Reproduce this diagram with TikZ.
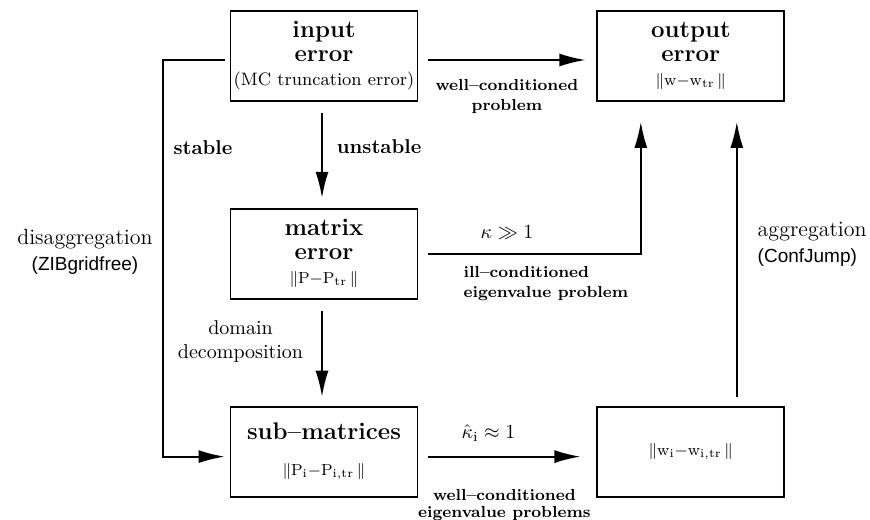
\documentclass[tikz,border=0pt]{standalone}
\usepackage{fontspec}
\newfontfamily\toolfont{Liberation Sans}
\usepackage{tikz}
\usetikzlibrary{arrows.meta, positioning}
\newcommand{\boxhead}{\fontsize{12}{12.5}\selectfont\bfseries}
\tikzset{errbox/.style={draw, line width=0.9pt, minimum width=93.5pt, minimum height=45pt, align=center, inner sep=1pt}}

\begin{document}
\begin{tikzpicture}[x=0.5pt, y=-0.5pt, >={Latex[length=13pt,width=6.5pt]}, line width=0.9pt, node distance=53pt and 89pt, every node/.style={inner sep=1pt}, cond/.style={font=\fontsize{8}{10}\selectfont\bfseries, align=center}, step label/.style={font=\bfseries}, tool/.style={font=\fontsize{11}{13}\selectfont}]
\useasboundingbox (0,0) rectangle (870,519);
\node[errbox] (in) at (324,56) {\boxhead input\\\boxhead error\\\small (MC truncation error)};
\node[errbox, right=of in] (out) {\boxhead output\\\boxhead error\\\footnotesize$\|\mathrm{w}{-}\mathrm{w}_{\mathrm{tr}}\,\|$};
\node[errbox, below=of in] (mat) {\boxhead matrix\\\boxhead error\\\footnotesize$\|\mathrm{P}{-}\mathrm{P}_{\mathrm{tr}}\,\|$};
\node[errbox, below=of mat] (sub) {\boxhead sub--matrices\\[6pt]\footnotesize$\|\mathrm{P}_{\mathrm{i}}{-}\mathrm{P}_{\mathrm{i,tr}}\,\|$};
\node[errbox, right=of sub] (wi) {\footnotesize$\|\mathrm{w}_{\mathrm{i}}{-}\mathrm{w}_{\mathrm{i,tr}}\,\|$};
\draw[->] ([xshift=5pt,yshift=-2pt]in.east) -- node[below=8pt, cond]{well--conditioned\\problem} ([xshift=-5.5pt,yshift=-2pt]out.west);
\draw[->] ([xshift=-1pt,yshift=-5.5pt]in.south) -- node[pos=0.4, right=6pt, step label]{unstable} ([xshift=-1pt,yshift=5pt]mat.north);
\draw[->] ([xshift=-2.5pt,yshift=-2pt]in.west) -- ++(-31pt,0) |- node[pos=0.11, right=4pt, step label]{stable} node[pos=0.242, left=3.5pt, tool, align=center]{disaggregation\\{\toolfont\fontsize{9.5}{13}\selectfont (ZIBgridfree)}} ([xshift=-2.5pt,yshift=-2.5pt]sub.west);
\draw[->] ([xshift=5pt]mat.east) -| node[pos=0.185, above=6pt]{$\kappa\gg 1$} node[pos=0.076, anchor=north west, yshift=-5pt, cond, align=left]{ill--conditioned\\eigenvalue problem} ([xshift=-25pt,yshift=-10pt]out.south);
\draw[->] ([xshift=-1pt,yshift=-5.5pt]mat.south) -- node[pos=0.355, left=8pt, align=center]{domain\\decomposition} ([xshift=-1pt,yshift=4.5pt]sub.north);
\draw[->] ([xshift=5pt,yshift=-2.5pt]sub.east) -- node[pos=0.395, above=6pt]{$\hat{\kappa}_{\mathrm{i}}\approx 1$} node[midway, below=15pt, cond, font=\fontsize{8}{8.5}\selectfont\bfseries]{well--conditioned\\eigenvalue problems} ([xshift=-8pt,yshift=-2.5pt]wi.west);
\draw[->] ([xshift=23pt,yshift=4.5pt]wi.north) -- node[pos=0.555, right=9pt, tool, align=left]{aggregation\\{\toolfont\fontsize{9.5}{13}\selectfont (ConfJump)}} ([xshift=23pt,yshift=-10pt]out.south);
\end{tikzpicture}
\end{document}
